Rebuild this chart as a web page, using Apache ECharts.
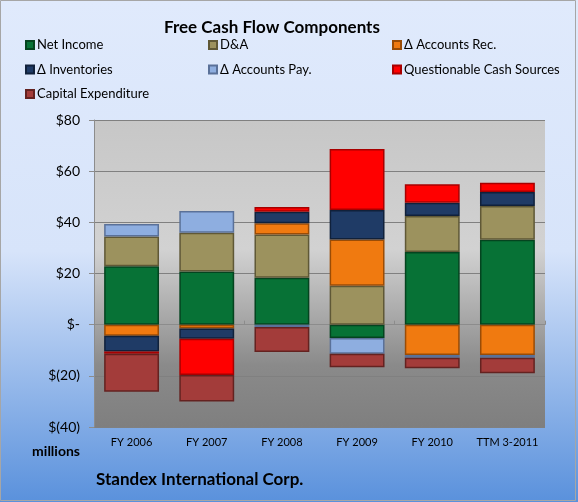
<!DOCTYPE html>
<html>
<head>
<meta charset="utf-8">
<script src="https://cdn.jsdelivr.net/npm/echarts@6/dist/echarts.min.js"></script>
<style>
  html, body { margin: 0; padding: 0; }
  #mychart { width: 578px; height: 502px; }
</style>
</head>
<body>
<div id="mychart"></div>
<script>
// values in $ millions
const categories = ['FY 2006', 'FY 2007', 'FY 2008', 'FY 2009', 'FY 2010', 'TTM 3-2011'];
const netIncome = [22.8, 20.8, 18.3, -5.2, 28.4, 33.2];
const depAmort = [11.7, 15.1, 16.9, 15.2, 14.1, 13.2];
const accountsRec = [-4.3, -1.5, 4.4, 18.1, -11.9, -11.9];
const inventories = [-6.2, -4.0, 4.5, 11.5, 5.2, 5.5];
const accountsPay = [4.8, 8.5, -0.9, -6.2, -1.0, -1.0];
const questionable = [-0.9, -14.2, 1.9, 23.9, 7.2, 3.6];
const capex = [-14.8, -10.3, -9.8, -5.2, -4.1, -6.1];

const FONT = 'Lato, "Open Sans", sans-serif';

let colors = {
  netIncome: '#077236',
  da: '#9c925e',
  ar: '#f07a10',
  inv: '#1f3b66',
  ap: '#8eaee0',
  q: '#ff0000',
  capex: '#a33c3a',
};
let borders = {
  netIncome: '#04441f',
  da: '#5f5836',
  ar: '#9a4c06',
  inv: '#10213b',
  ap: '#5a7199',
  q: '#a80000',
  capex: '#642220',
};

function makeSeries(name, data, key) {
  return {
    name: name,
    type: 'bar',
    stack: 'fcf',
    barWidth: '73%',
    data: data,
    itemStyle: {
      color: colors[key],
      borderColor: borders[key],
      borderWidth: 1.5,
    },
  };
}

let myChart = echarts.init(document.getElementById('mychart'));

let option = {
  backgroundColor: new echarts.graphic.LinearGradient(0, 0, 0, 1, [
    { offset: 0, color: '#e0eafc' },
    { offset: 0.5, color: '#d7e4fa' },
    { offset: 1, color: '#5a91dc' },
  ]),
  textStyle: { fontFamily: FONT },
  title: {
    text: 'Free Cash Flow Components',
    left: 159,
    top: 14,
    textStyle: { fontFamily: FONT, fontSize: 17, fontWeight: 'bold', color: '#000' },
  },
  legend: [
    {
      left: 20, top: 33, orient: 'vertical',
      data: ['Net Income', 'Δ Inventories', 'Capital Expenditure'],
    },
    {
      left: 203, top: 33, orient: 'vertical',
      data: ['D&A', 'Δ Accounts Pay.'],
    },
    {
      left: 387, top: 33, orient: 'vertical',
      data: ['Δ Accounts Rec.', 'Questionable Cash Sources'],
    },
  ].map((l) =>
    Object.assign(l, {
      icon: 'rect',
      itemWidth: 8,
      itemHeight: 8,
      itemGap: 10.5,
      selectedMode: false,
      textStyle: { fontFamily: FONT, fontSize: 13, color: '#000', lineHeight: 14, padding: [0, 0, 0, -2] },
    })
  ),
  grid: {
    left: 94,
    right: 33,
    top: 120,
    bottom: 75,
    show: true,
    borderWidth: 0,
    backgroundColor: new echarts.graphic.LinearGradient(0, 0, 0, 1, [
      { offset: 0, color: '#c7c7c7' },
      { offset: 0.42, color: '#d2d2d2' },
      { offset: 0.8, color: '#8a8a8a' },
      { offset: 1, color: '#7f7f7f' },
    ]),
  },
  xAxis: [
    {
      type: 'category',
      data: categories,
      axisLine: { show: false, onZero: false },
      axisTick: { show: false },
      axisLabel: { color: '#000', fontSize: 11, fontFamily: FONT, margin: 10, interval: 0 },
    },
    {
      type: 'category',
      data: categories,
      position: 'bottom',
      axisLine: { show: true, onZero: true, lineStyle: { color: '#8c8c8c', width: 1 } },
      axisTick: { show: true, inside: true, length: 4, lineStyle: { color: '#8c8c8c' } },
      axisLabel: { show: false },
    },
  ],
  yAxis: {
    type: 'value',
    min: -40,
    max: 80,
    interval: 20,
    axisLine: { show: true, lineStyle: { color: '#8c8c8c' } },
    axisTick: { show: true, length: 5, lineStyle: { color: '#8c8c8c' } },
    splitLine: { show: true, lineStyle: { color: '#808080', width: 1 } },
    axisLabel: {
      color: '#000',
      fontSize: 14,
      fontFamily: FONT,
      margin: 14,
      formatter: function (v) {
        if (v === 0) return '$-';
        if (v < 0) return '$(' + -v + ')';
        return '$' + v;
      },
    },
  },
  series: [
    makeSeries('Net Income', netIncome, 'netIncome'),
    makeSeries('D&A', depAmort, 'da'),
    makeSeries('Δ Accounts Rec.', accountsRec, 'ar'),
    makeSeries('Δ Inventories', inventories, 'inv'),
    makeSeries('Δ Accounts Pay.', accountsPay, 'ap'),
    makeSeries('Questionable Cash Sources', questionable, 'q'),
    makeSeries('Capital Expenditure', capex, 'capex'),
  ],
  graphic: [
    {
      type: 'text',
      right: 498,
      top: 444,
      style: { text: 'millions', fontFamily: FONT, fontSize: 14, fontWeight: 'bold', fill: '#000' },
    },
    {
      type: 'text',
      left: 96,
      top: 471,
      style: { text: 'Standex International Corp.', fontFamily: FONT, fontSize: 17, fontWeight: 'bold', fill: '#000' },
    },
    {
      type: 'rect',
      shape: { x: 0.5, y: 0.5, width: 575, height: 500 },
      style: { fill: null, stroke: '#a6a6a6', lineWidth: 1 },
      silent: true,
    },
  ],
};

myChart.setOption(option);
</script>
</body>
</html>
